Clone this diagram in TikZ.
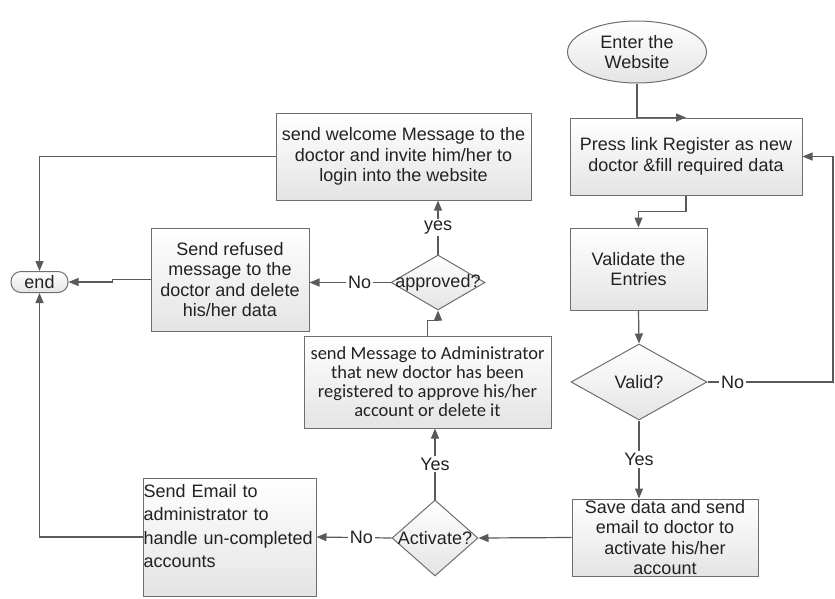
\documentclass[tikz,border=0pt]{standalone}
\usepackage{fontspec}
\setmainfont{Liberation Sans}
\newfontfamily\calfont{Carlito}
\usepackage{tikz}
\usetikzlibrary{arrows.meta, shapes.geometric}
\definecolor{edgegray}{HTML}{6E6E6E}
\definecolor{linegray}{HTML}{5A5A5A}
\definecolor{shadegray}{HTML}{E4E4E4}
\definecolor{inkgray}{HTML}{222222}

\begin{document}
\begin{tikzpicture}[x=1pt,y=-1pt,>={Triangle[length=10pt,width=8pt]},
font=\fontsize{18}{20.5}\selectfont,text=inkgray,
blk/.style={draw=edgegray,line width=1pt,top color=white,bottom color=shadegray,align=center,inner sep=0pt},
dec/.style={diamond,draw=edgegray,line width=1pt,top color=white,bottom color=shadegray,inner sep=0pt},
flow/.style={->,draw=linegray,line width=1.2pt},
lbl/.style={fill=white,inner sep=2pt}]
\useasboundingbox (0,0) rectangle (835,598);
\node[ellipse,blk,minimum width=139,minimum height=62] (start) at (637,52) {Enter the\\Website};
\node[blk,minimum width=232,minimum height=77] (reg) at (686,156.5) {Press link Register as new\\doctor \&fill required data};
\node[blk,minimum width=137,minimum height=82] (check) at (638.5,269) {Validate the\\Entries};
\node[dec,minimum width=136,minimum height=76,label=center:Valid?] (isvalid) at (639,382) {};
\node[blk,minimum width=186,minimum height=77] (save) at (665,537.5) {Save data and send\\email to doctor to\\activate his/her\\account};
\node[dec,minimum width=86,minimum height=76,label=center:Activate?] (activate) at (435,538) {};
\node[blk,minimum width=173,minimum height=118,align=left,text width=172,text depth=92pt,font=\fontsize{18}{23.3}\selectfont] (email) at (229.5,537) {Send Email to\\administrator to\\handle un-completed\\accounts};
\node[blk,minimum width=247,minimum height=92,font=\calfont\fontsize{18.5}{19}\selectfont] (notify) at (427.5,382) {send Message to Administrator\\that new doctor has been\\registered to approve his/her\\account or delete it};
\node[dec,minimum width=94,minimum height=55,label=center:approved?] (approved) at (438,282.5) {};
\node[blk,minimum width=158,minimum height=103] (refuse) at (230,279.5) {Send refused\\message to the\\doctor and delete\\his/her data};
\node[blk,minimum width=255,minimum height=87] (welcome) at (403.5,156.5) {send welcome Message to the\\doctor and invite him/her to\\login into the website};
\node[blk,rounded corners=10pt,minimum width=57,minimum height=21] (end) at (39.5,282) {end};

\draw[flow] (start.south) |- (reg.north);
\draw[flow] (reg.south) -- ++(0,16) -| (check.north);
\draw[flow] (check.south) -- (isvalid.north);
\coordinate (back) at (833,382);
\draw[flow] (isvalid.east) -- node[lbl,pos=0.2]{No} (back) |- (reg.east);
\draw[flow] (isvalid.south) -- node[lbl]{Yes} (isvalid.south |- save.north);
\draw[flow] (save.west) -- (activate.east);
\draw[flow] (activate.west) -- node[lbl,pos=0.4]{No} (email.east);
\draw[flow] (activate.north) -- node[lbl]{Yes} (activate.north |- notify.south);
\draw[flow] (notify.north) -- ++(0,-15) -| (approved.south);
\draw[flow] (approved.west) -- node[lbl,pos=0.38]{No} (approved.west -| refuse.east);
\draw[flow] (approved.north) -- node[lbl]{yes} (approved.north |- welcome.south);
\draw[flow] (welcome.west) -| (end.north);
%\draw[flow] (refuse.west) -- (end.east);
\draw[flow] (refuse.west) -- ++(-38,0) |- (end.east);
\draw[flow] (email.west) -| (end.south);
\end{tikzpicture}
\end{document}
